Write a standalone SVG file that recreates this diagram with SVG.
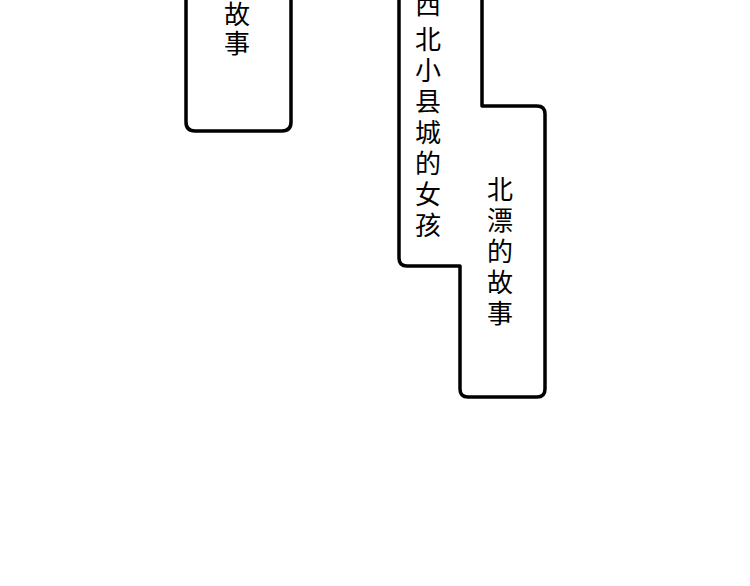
<svg xmlns="http://www.w3.org/2000/svg" width="750" height="586" viewBox="0 0 750 586">
<style>
.b{fill:#fff;stroke:#000;stroke-width:3.5;stroke-linejoin:round}
.t{font-family:"Noto Sans CJK SC",sans-serif;font-size:26px;fill:#000;text-anchor:middle}
</style>
<rect width="750" height="586" fill="#fff"/>
<g id="box1">
<path class="b" d="M186,-5 V122 Q186,131 195,131 H282 Q291,131 291,122 V-5"/>
<text class="t" x="237" y="24">故</text>
<text class="t" x="237" y="53">事</text>
</g>
<g id="box2">
<path class="b" d="M399,-5 V258 Q399,266 407,266 H460 V389 Q460,397 468,397 H537 Q545,397 545,389 V114 Q545,106 537,106 H482 V-5"/>
<text class="t" x="428" y="14">西</text>
<text class="t" x="428" y="49">北</text>
<text class="t" x="428" y="80">小</text>
<text class="t" x="428" y="111">县</text>
<text class="t" x="428" y="142">城</text>
<text class="t" x="428" y="173">的</text>
<text class="t" x="428" y="204">女</text>
<text class="t" x="428" y="235">孩</text>
<text class="t" x="500" y="199">北</text>
<text class="t" x="500" y="230">漂</text>
<text class="t" x="500" y="261">的</text>
<text class="t" x="500" y="292">故</text>
<text class="t" x="500" y="323">事</text>
</g>
<g id="connectors"/>
</svg>
